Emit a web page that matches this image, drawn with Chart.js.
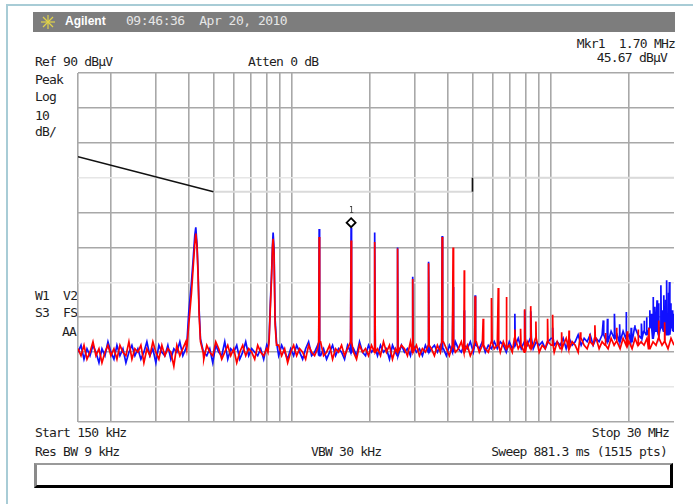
<!DOCTYPE html>
<html>
<head>
<meta charset="utf-8">
<script src="https://cdn.jsdelivr.net/npm/chart.js@4/dist/chart.umd.min.js"></script>
<style>
html, body { margin: 0; padding: 0; background: #fff; }
#wrap { position: relative; width: 693px; height: 504px; overflow: hidden; }
canvas { position: absolute; left: 0; top: 0; }
.t { position: absolute; font-family: "DejaVu Sans Mono", monospace; font-size: 13px; line-height: 14px;
     letter-spacing: -0.8px; color: #1e1e1e; white-space: pre; }
.r { text-align: right; }
#hdr { position: absolute; left: 33px; top: 12px; width: 642px; height: 20px; background: #7d7d7d; }
#box { position: absolute; left: 34px; top: 463px; width: 633px; height: 20px; background: #fff;
       border-left: 3px solid #8a8a8a; border-top: 2px solid #9a9a9a; border-right: 3px solid #000; border-bottom: 3px solid #000; }
</style>
</head>
<body>
<div id="wrap">
  <div style="position:absolute;left:6px;top:4px;width:687px;height:1.5px;background:#a8ccd6"></div>
  <div style="position:absolute;left:6px;top:4px;width:1.5px;height:500px;background:#a8ccd6"></div>
  <div id="hdr"></div>
  <svg style="position:absolute;left:41px;top:15px" width="14" height="14" viewBox="0 0 14 14">
    <g stroke="#e0d24a" stroke-width="1.2">
      <line x1="7" y1="0" x2="7" y2="14"/><line x1="0" y1="7" x2="14" y2="7"/>
      <line x1="2" y1="2" x2="12" y2="12"/><line x1="12" y1="2" x2="2" y2="12"/>
    </g>
  </svg>
  <div class="t" style="left:65px;top:14px;font-family:'Liberation Sans',sans-serif;font-weight:bold;font-size:12px;letter-spacing:0;color:#fff">Agilent</div>
  <div class="t" style="left:126px;top:14px;letter-spacing:-0.5px;color:#e6e6e6">09:46:36  Apr 20, 2010</div>

  <div class="t r" style="right:18px;top:37px">Mkr1  1.70 MHz</div>
  <div class="t r" style="right:26px;top:51px">45.67 dBµV</div>
  <div class="t" style="left:35px;top:55px">Ref 90 dBµV</div>
  <div class="t" style="left:248px;top:55px">Atten 0 dB</div>
  <div class="t" style="left:35px;top:73px">Peak</div>
  <div class="t" style="left:35px;top:90px">Log</div>
  <div class="t" style="left:35px;top:109px">10</div>
  <div class="t" style="left:35px;top:125px">dB/</div>
  <div class="t" style="left:35px;top:289px">W1  V2</div>
  <div class="t" style="left:35px;top:306px">S3  FS</div>
  <div class="t r" style="right:617px;top:325px">AA</div>
  <div class="t" style="left:35px;top:426px">Start 150 kHz</div>
  <div class="t" style="left:35px;top:445px">Res BW 9 kHz</div>
  <div class="t" style="left:311px;top:445px">VBW 30 kHz</div>
  <div class="t r" style="right:24px;top:426px">Stop 30 MHz</div>
  <div class="t r" style="right:26px;top:445px">Sweep 881.3 ms (1515 pts)</div>
  <div id="box"></div>

  <canvas id="c" width="693" height="504"></canvas>
  <div class="t" id="mk" style="font-size:8px;line-height:8px;letter-spacing:0;color:#333">1</div>
</div>
<script>
// sweep: 150 kHz .. 30 MHz, log, 10 dB/div from 90 dBuV
const startMHz = 0.15;
const stopMHz = 30;
const refLevel = 90;
const bottomLevel = -10;
const freqGridMHz = [0.15, 0.2, 0.3, 0.4, 0.5, 0.6, 0.7, 0.8, 0.9, 1, 2, 3, 4, 5, 6, 7, 8, 9, 10, 20];
const faintLevels = [60, 30, 0];

// noise floor read across the screen (200 samples per trace)
const redNoise = [
  11, 9, 12, 8, 10, 13, 9, 11, 7, 10, 12, 9, 11, 8, 12, 10, 9, 13, 8, 11,
  10, 12, 7, 11, 9, 13, 10, 8, 12, 9, 11, 10, 6, 12, 9, 11, 13, 8, 10, 12,
  9, 11, 8, 12, 10, 9, 13, 11, 8, 10, 12, 9, 11, 7, 10, 12, 9, 11, 10, 8,
  12, 10, 9, 11, 13, 8, 10, 12, 9, 11, 7, 10, 12, 9, 11, 10, 8, 12, 10, 9,
  11, 13, 9, 10, 12, 8, 11, 10, 12, 9, 11, 13, 10, 8, 12, 10, 11, 9, 12, 10,
  11, 9, 13, 10, 12, 8, 11, 10, 12, 11, 9, 13, 10, 12, 9, 11, 10, 12, 11, 9,
  12, 10, 13, 11, 9, 12, 10, 11, 13, 10, 12, 9, 11, 13, 10, 12, 11, 10, 13, 11,
  12, 10, 13, 11, 12, 10, 14, 11, 12, 10, 13, 11, 12, 14, 10, 12, 11, 13, 12, 10,
  13, 11, 12, 14, 11, 13, 12, 10, 14, 12, 11, 13, 12, 14, 11, 13, 12, 11, 14, 12,
  13, 11, 14, 12, 13, 11, 14, 12, 13, 12, 14, 11, 13, 12, 14, 12, 13, 11, 14, 12
];
const blueNoise = [
  10, 12, 8, 11, 9, 12, 10, 7, 11, 9, 13, 10, 8, 12, 9, 11, 7, 10, 12, 9,
  11, 8, 10, 13, 9, 11, 7, 12, 10, 9, 12, 8, 11, 10, 13, 9, 11, 8, 12, 10,
  8, 12, 10, 9, 11, 7, 12, 10, 9, 13, 8, 11, 10, 12, 8, 10, 13, 9, 11, 10,
  9, 11, 8, 12, 10, 7, 11, 9, 12, 10, 8, 11, 9, 12, 10, 8, 11, 13, 9, 10,
  12, 9, 11, 8, 10, 12, 9, 11, 10, 8, 12, 10, 11, 9, 13, 10, 9, 12, 10, 11,
  9, 12, 10, 11, 8, 12, 10, 9, 12, 10, 11, 9, 12, 10, 11, 9, 12, 10, 11, 12,
  10, 12, 11, 9, 12, 10, 13, 11, 10, 12, 11, 13, 10, 12, 11, 13, 10, 12, 11, 13,
  11, 13, 12, 10, 13, 11, 12, 14, 11, 13, 12, 14, 11, 13, 12, 13, 11, 13, 14, 12,
  13, 12, 14, 11, 14, 12, 13, 15, 12, 14, 13, 15, 12, 14, 13, 15, 14, 13, 16, 14,
  15, 13, 16, 14, 15, 13, 17, 15, 14, 16, 15, 17, 14, 16, 15, 17, 16, 15, 17, 16
];

// the two wider humps (fundamental and 2nd harmonic)
const hump1Freq = [0.3945, 0.4016, 0.4113, 0.4173, 0.4236, 0.4274, 0.4323, 0.4362, 0.4401, 0.4456, 0.456];
const hump1Red  = [11, 18, 27, 34, 41, 44, 40, 32, 21, 13, 10];
const hump1Blue = [12, 21.5, 30, 36.3, 43.5, 45.8, 40.7, 33, 22.5, 13.8, 10.5];
const hump2Freq = [0.812, 0.820, 0.8305, 0.8378, 0.8454, 0.850, 0.857, 0.865, 0.876];
const hump2Red  = [10, 13, 24, 31, 40, 42.5, 38, 18, 12];
const hump2Blue = [11, 13.9, 25.3, 32, 40.7, 44.3, 39.7, 19.6, 12.9];

// narrow spikes
const redSpikeFreq  = [1.28, 1.70, 2.10, 2.57, 2.94, 3.39, 3.82, 4.21, 4.65, 5.12, 5.50, 5.93, 6.29, 6.77,
  7.29, 7.67, 7.97, 8.41, 8.79, 9.75, 10.2, 11.05, 11.8, 13.05, 14.2, 14.85, 16.3, 18.0, 19.8, 21.8, 24.0, 26.2, 27.6];
const redSpikeLevel = [43, 42, 41.6, 39.7, 31, 35.5, 43, 40, 33.5, 26, 19.6, 25.5, 28.4, 25.8,
  16.5, 16.7, 22.3, 23.2, 18.8, 19.6, 20.7, 15.7, 16.2, 15.7, 15.3, 17.7, 15.5, 17, 16, 16.5, 17, 19.1, 18.6];
const blueSpikeFreq  = [1.28, 1.70, 2.10, 2.57, 2.94, 3.39, 3.82, 4.21, 4.65, 5.12, 7.29, 7.97, 8.41, 10.2,
  16.0, 16.6, 17.7, 18.5, 19.6, 20.5, 21.2, 22.5, 23.0, 23.5, 24.2, 24.5, 24.9, 25.3, 25.8, 26.2, 26.7,
  27.0, 27.4, 27.8, 28.1, 28.5, 28.8, 29.2, 29.5, 29.8];
const blueSpikeLevel = [45.3, 45.67, 44.3, 40, 31.6, 35.9, 43.3, 28.7, 22, 26.3, 21, 22, 21.7, 17,
  19.1, 19.6, 21, 18, 21.5, 17, 17.7, 18.2, 19, 20, 22, 21, 25.8, 23, 24.9, 24, 29.2,
  22, 26.3, 25, 30.6, 27, 30.1, 24, 22, 21];

// CISPR 22 class B QP limit
const limitSlopeFreq = [0.15, 0.5];
const limitSlopeLevel = [66, 56];
const limitMidFreq = [0.5, 5];
const limitMidLevel = [56, 56];
const limitStepFreq = [5, 5];
const limitStepLevel = [56, 60];
const limitHighFreq = [5, 30];
const limitHighLevel = [60, 60];

const markerFreqMHz = 1.70;
const markerLevel = 45.67;

function buildTrace(noise, humps, spikeF, spikeL) {
  const n = noise.length;
  const span = Math.log(stopMHz / startMHz);
  const pts = [];
  for (let i = 0; i < n; i++) {
    const f = startMHz * Math.exp(span * i / (n - 1));
    if (humps.some(h => f >= h.f[0] && f <= h.f[h.f.length - 1])) continue;
    pts.push({x: f, y: noise[i]});
  }
  humps.forEach(h => h.f.forEach((f, k) => pts.push({x: f, y: h.y[k]})));
  spikeF.forEach((f, k) => {
    const base = noise[Math.round(Math.log(f / startMHz) / span * (n - 1))];
    pts.push({x: f / 1.004, y: base}, {x: f, y: spikeL[k]}, {x: f * 1.004, y: base});
  });
  return pts.sort((a, b) => a.x - b.x);
}
const pairs = (fs, ls) => fs.map((f, i) => ({x: f, y: ls[i]}));

const redData = buildTrace(redNoise, [{f: hump1Freq, y: hump1Red}, {f: hump2Freq, y: hump2Red}], redSpikeFreq, redSpikeLevel);
const blueData = buildTrace(blueNoise, [{f: hump1Freq, y: hump1Blue}, {f: hump2Freq, y: hump2Blue}], blueSpikeFreq, blueSpikeLevel);

const markerPlugin = {
  id: 'marker',
  afterDatasetsDraw(chart) {
    const {ctx, scales: {x, y}} = chart;
    const px = x.getPixelForValue(markerFreqMHz);
    const py = y.getPixelForValue(markerLevel) - 5;
    ctx.save();
    ctx.beginPath();
    ctx.moveTo(px, py - 4.5); ctx.lineTo(px + 4.5, py); ctx.lineTo(px, py + 4.5); ctx.lineTo(px - 4.5, py);
    ctx.closePath();
    ctx.fillStyle = '#fff'; ctx.fill();
    ctx.lineWidth = 1.8; ctx.strokeStyle = '#000'; ctx.stroke();
    ctx.restore();
    const lab = document.getElementById('mk');
    lab.style.left = (px - 2) + 'px';
    lab.style.top = (py - 16) + 'px';
  }
};

const line = (data, color, width, order) => ({
  data, borderColor: color, borderWidth: width, pointRadius: 0, tension: 0, fill: false, order
});

new Chart(document.getElementById('c'), {
  type: 'line',
  data: {
    datasets: [
      line(pairs(limitSlopeFreq, limitSlopeLevel), '#111', 1.6, 0),
      line(pairs(limitStepFreq, limitStepLevel), '#111', 1.6, 0),
      line(pairs(limitMidFreq, limitMidLevel), '#dadada', 2, 3),
      line(pairs(limitHighFreq, limitHighLevel), '#dadada', 2, 3),
      line(redData, '#ff0000', 1.7, 1),
      line(blueData, '#1010ff', 1.7, 2)
    ]
  },
  options: {
    responsive: false,
    animation: false,
    events: [],
    layout: {padding: {left: 78, top: 73, right: 19, bottom: 82}},
    plugins: {legend: {display: false}, tooltip: {enabled: false}},
    scales: {
      x: {
        type: 'logarithmic', min: startMHz, max: stopMHz,
        ticks: {display: false},
        grid: {drawTicks: false, color: '#a8a8a8', lineWidth: 1.6},
        border: {display: false},
        afterBuildTicks: axis => { axis.ticks = freqGridMHz.map(v => ({value: v})); }
      },
      y: {
        type: 'linear', min: bottomLevel, max: refLevel,
        ticks: {display: false, stepSize: 10},
        grid: {drawTicks: false, lineWidth: 1.6,
          color: c => faintLevels.includes(c.tick.value) ? '#e6e6e6' : '#a8a8a8'},
        border: {display: false}
      }
    }
  },
  plugins: [markerPlugin]
});
</script>
</body>
</html>
